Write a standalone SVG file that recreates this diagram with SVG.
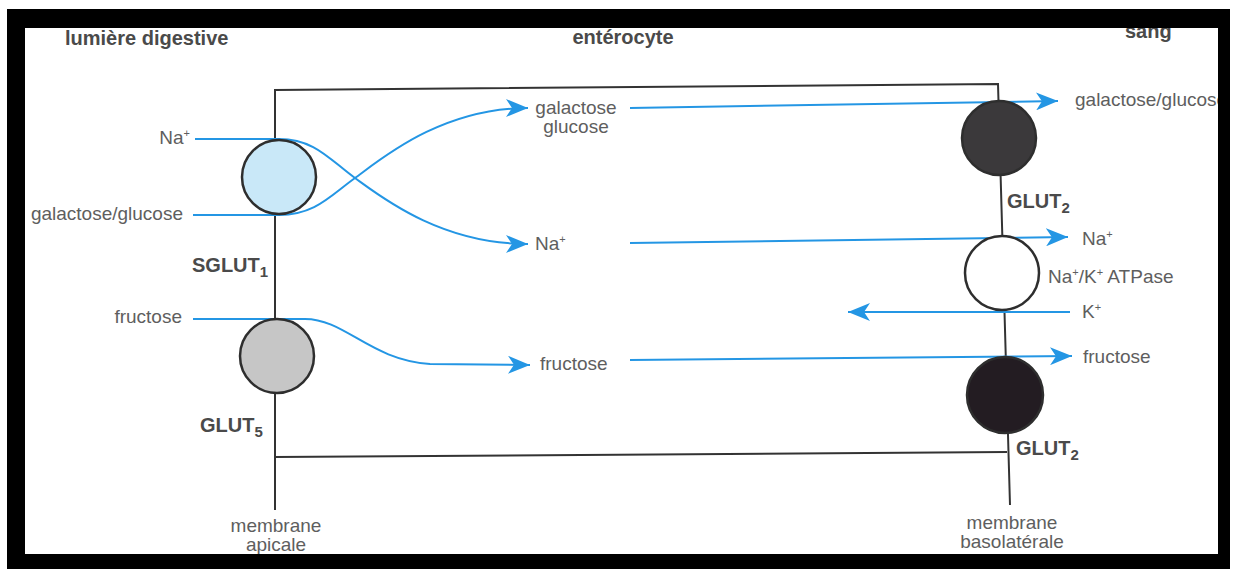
<svg xmlns="http://www.w3.org/2000/svg" width="1237" height="571" viewBox="0 0 1237 571">
<style>
.lbl{font-family:"Liberation Sans",Arial,sans-serif;font-size:19px;fill:#5e5e5e}
.b{font-weight:bold;font-size:20px;fill:#4a4a4a}
.sub{font-size:15px}
.sup{font-size:11px}
.mem{fill:none;stroke:#333;stroke-width:2}
.flow{fill:none;stroke:#2496e4;stroke-width:2}
.circ{stroke:#2e2e2e;stroke-width:2.5}
</style>
<defs>
<marker id="arr" markerUnits="userSpaceOnUse" markerWidth="24" markerHeight="18" viewBox="0 0 24 18" refX="22" refY="9" orient="auto">
<path d="M0,0 L22,9 L0,18 L6,9 Z" fill="#2496e4"/>
</marker>
</defs>
<rect x="0" y="0" width="1237" height="571" fill="#fff"/>
<g id="cell">
<path class="mem" d="M275,510 L275,90 L998,84 L1010,505"/>
<path class="mem" d="M275,457 L1007,452"/>
</g>
<g id="connectors">
<path class="flow" d="M195,139 L279,139 C315,139 330,160 355,178 S440,244 528,244" marker-end="url(#arr)"/>
<path class="flow" d="M193,215 L279,215 C315,215 330,196 355,178 S440,108 528,108" marker-end="url(#arr)"/>
<path class="flow" d="M193,319 L305,319 C345,319 370,360 430,364 L530,365" marker-end="url(#arr)"/>
<path class="flow" d="M630,108 L1058,101" marker-end="url(#arr)"/>
<path class="flow" d="M630,243 L1068,237" marker-end="url(#arr)"/>
<path class="flow" d="M1070,312 L848,312" marker-end="url(#arr)"/>
<path class="flow" d="M630,360 L1072,356" marker-end="url(#arr)"/>
</g>
<g id="sglut1">
<circle class="circ" cx="279" cy="177" r="37" fill="#c9e8f8"/>
<text class="lbl b" x="192" y="272">SGLUT<tspan class="sub" dy="5">1</tspan></text>
</g>
<g id="glut5">
<circle class="circ" cx="277" cy="356" r="37" fill="#c6c6c6"/>
<text class="lbl b" x="200" y="432">GLUT<tspan class="sub" dy="5">5</tspan></text>
</g>
<g id="glut2-top">
<circle class="circ" cx="999" cy="138" r="37" fill="#3b393b"/>
<text class="lbl b" x="1007" y="208">GLUT<tspan class="sub" dy="5">2</tspan></text>
</g>
<g id="atpase">
<circle class="circ" cx="1002" cy="273" r="37" fill="#fff"/>
<text class="lbl" x="1048" y="283">Na<tspan class="sup" dy="-7">+</tspan><tspan dy="7">/K</tspan><tspan class="sup" dy="-7">+</tspan><tspan dy="7"> ATPase</tspan></text>
</g>
<g id="glut2-bottom">
<circle class="circ" cx="1005" cy="395" r="38" fill="#231c22"/>
<text class="lbl b" x="1016" y="455">GLUT<tspan class="sub" dy="5">2</tspan></text>
</g>
<g id="labels">
<text class="lbl b" x="65" y="45">lumière digestive</text>
<text class="lbl b" x="623" y="44" text-anchor="middle">entérocyte</text>
<text class="lbl b" x="1125" y="38">sang</text>
<text class="lbl" x="190" y="144" text-anchor="end">Na<tspan class="sup" dy="-7">+</tspan></text>
<text class="lbl" x="183" y="220" text-anchor="end">galactose/glucose</text>
<text class="lbl" x="182" y="323" text-anchor="end">fructose</text>
<text class="lbl" x="576" y="114" text-anchor="middle">galactose</text>
<text class="lbl" x="576" y="133" text-anchor="middle">glucose</text>
<text class="lbl" x="535" y="250">Na<tspan class="sup" dy="-7">+</tspan></text>
<text class="lbl" x="540" y="370">fructose</text>
<text class="lbl" x="1075" y="106">galactose/glucose</text>
<text class="lbl" x="1082" y="245">Na<tspan class="sup" dy="-7">+</tspan></text>
<text class="lbl" x="1082" y="318">K<tspan class="sup" dy="-7">+</tspan></text>
<text class="lbl" x="1083" y="363">fructose</text>
<text class="lbl" x="276" y="532" text-anchor="middle">membrane</text>
<text class="lbl" x="276" y="551" text-anchor="middle">apicale</text>
<text class="lbl" x="1012" y="529" text-anchor="middle">membrane</text>
<text class="lbl" x="1012" y="548" text-anchor="middle">basolatérale</text>
</g>
<path id="frame" fill="#000" fill-rule="evenodd" d="M7,9 H1230 V569 H7 Z M25,28 V554 H1218 V28 Z"/>
</svg>
